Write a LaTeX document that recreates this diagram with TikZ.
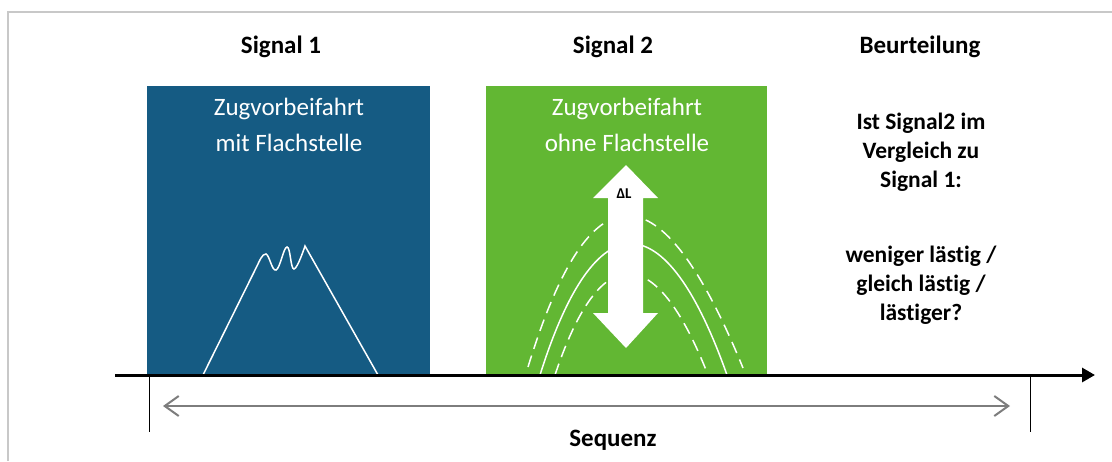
\documentclass[tikz,border=0pt]{standalone}
\usepackage{fontspec}
\setmainfont{Carlito}[Ligatures=NoCommon]
\usetikzlibrary{arrows.meta,positioning}

\definecolor{sigblue}{RGB}{21,91,131}
\definecolor{siggreen}{RGB}{98,183,51}
\definecolor{framegray}{RGB}{200,200,200}
\definecolor{seqgray}{RGB}{125,125,125}

\tikzset{
  sigbox/.style={rectangle, inner sep=0pt, anchor=north west,
    minimum width=283pt, minimum height=289pt},
  boxtext/.style={text=white, align=center, font=\fontsize{25}{36}\selectfont},
  headtext/.style={font=\bfseries\fontsize{25}{28}\selectfont},
  asktext/.style={align=center, font=\bfseries\fontsize{23.5}{29}\selectfont},
  sigline/.style={white, line width=1.5pt},
  sigdash/.style={white, line width=1.5pt, dash pattern=on 12pt off 7pt},
  axisline/.style={line width=3pt, -{Triangle[length=13pt,width=14pt]}},
  seqline/.style={seqgray, line width=2pt,
    {Straight Barb[length=14pt,width=20pt]}-{Straight Barb[length=14pt,width=20pt]}}
}

\begin{document}
\begin{tikzpicture}[x=1pt,y=-1pt]
  \useasboundingbox (0,0) rectangle (1112,461);
  \draw[framegray, line width=1.5pt] (8,461) -- (8,12) -- (1112,12);

  % the two signals
  \node[sigbox, fill=sigblue] (box1) at (147,86) {};
  \node[sigbox, fill=siggreen, minimum width=281pt] (box2) at (486,86) {};

  \node[headtext] (head1) at (281,47) {Signal 1};
  \node[headtext] (head2) at (613,47) {Signal 2};
  \node[headtext] (head3) at (920,47) {Beurteilung};

  \node[boxtext] (text1) at (289,125) {Zugvorbeifahrt\\mit Flachstelle};
  \node[boxtext] (text2) at (627,125) {Zugvorbeifahrt\\ohne Flachstelle};

  % peak with flat spot
  \draw[sigline] (203,375) -- plot[smooth, tension=0.7] coordinates
    {(258,264) (266,254) (276,270) (287,247) (294,269) (305,246)} -- (378,375);

  % level curves
  \draw[sigdash] (528,367) .. controls (590,165) and (660,165) .. (743,368);
  \draw[sigline] (540,375) .. controls (595,200) and (665,200) .. (727,375);
  \draw[sigdash] (555,375) .. controls (600,240) and (655,240) .. (708,375);

  \fill[white] (626,165) -- (658,198) -- (643,198) -- (643,313) -- (658,313)
    -- (626,348) -- (593,313) -- (608,313) -- (608,198) -- (593,198) -- cycle;
  \node[font=\bfseries\fontsize{15}{17}\selectfont] (dl) at (624,194) {ΔL};

  % question
  \node[asktext] (ask1) at (921,152) {Ist Signal2 im\\Vergleich zu\\Signal 1:};
  \node[asktext] (ask2) at (921,285) {weniger lästig /\\gleich lästig /\\lästiger?};

  % time axis and sequence
  \coordinate (ax0) at (115,375);
  \coordinate (ax1) at (1095,375);
  \draw[axisline] (ax0) -- (ax1);
  \coordinate (t0) at (149,375);
  \coordinate (t0e) at (149,432);
  \coordinate (t1) at (1030,375);
  \coordinate (t1e) at (1030,432);
  \draw[line width=1pt] (t0) -- (t0e);
  \draw[line width=1pt] (t1) -- (t1e);
  \coordinate (s0) at (163,406);
  \coordinate (s1) at (1010,406);
  \draw[seqline] (s0) -- (s1);
  \node[headtext] (seq) at (613,440) {Sequenz};
\end{tikzpicture}
\end{document}
